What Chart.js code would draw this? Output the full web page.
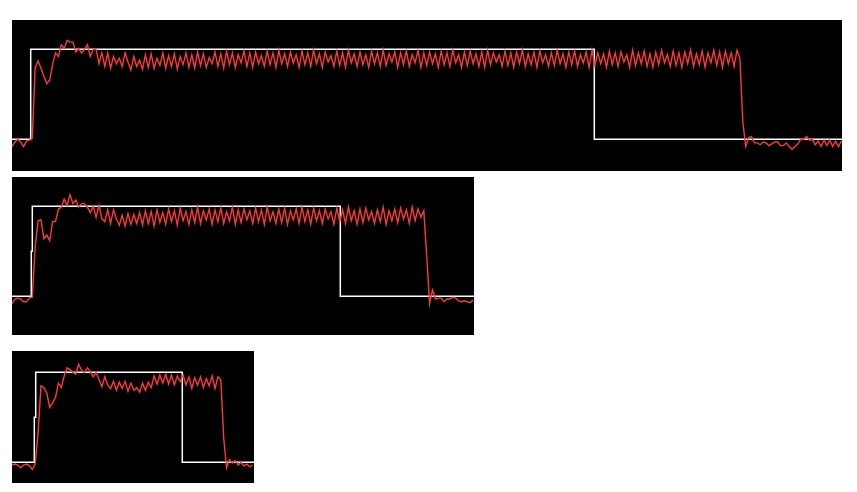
<!DOCTYPE html>
<html>
<head>
<meta charset="utf-8">
<script src="https://cdn.jsdelivr.net/npm/chart.js@4.4.1/dist/chart.umd.min.js"></script>
<style>
  html, body { margin: 0; padding: 0; background: #ffffff; width: 857px; height: 492px; overflow: hidden; }
  canvas { position: absolute; display: block; }
</style>
</head>
<body>
<canvas id="c1" width="830" height="151" style="left:12px;top:20px;width:830px;height:151px"></canvas>
<canvas id="c2" width="462" height="158" style="left:12px;top:177px;width:462px;height:158px"></canvas>
<canvas id="c3" width="242" height="132" style="left:12px;top:351px;width:242px;height:132px"></canvas>
<script>
// time between samples of the measured (red) signal
const SAMPLE_STEP = 2.9;

// ---- Panel 1 ----
const p1RefTimes  = [0, 18.7, 18.7, 582.3, 582.3, 830];
const p1RefLevels = [0, 0, 1, 1, 0, 0];
const p1Signal = [
  -0.08, -0.03, 0.00, -0.03, -0.08, -0.02, -0.01, 0.01, 0.80, 0.87,
  0.79, 0.70, 0.62, 0.66, 0.83, 0.96, 0.92, 1.05, 1.01, 1.10,
  1.08, 1.08, 0.97, 1.01, 0.96, 1.00, 1.05, 0.92, 1.00, 1.00,
  0.84, 0.96, 0.81, 0.96, 0.79, 0.92, 0.84, 0.90, 0.81, 0.96,
  0.86, 0.77, 0.92, 0.81, 0.88,
  0.78, 0.94, 0.80, 0.95, 0.79, 0.90, 0.82, 0.96, 0.79, 0.93,
  0.81, 0.95, 0.78, 0.92, 0.83, 0.96, 0.80, 0.94, 0.79, 0.97,
  0.82, 0.95, 0.80, 0.91, 0.84, 0.97, 0.81, 0.95, 0.79, 0.98,
  0.83, 0.96, 0.80, 0.94, 0.85, 0.98, 0.81, 0.96, 0.80, 0.97,
  0.84, 0.93, 0.81, 0.98, 0.83, 0.96, 0.80, 0.99, 0.84, 0.95,
  0.81, 0.97, 0.85, 0.94, 0.80, 0.98, 0.83, 0.96, 0.81, 0.99,
  0.84, 0.95, 0.80, 0.97, 0.86, 0.93, 0.81, 0.98, 0.82, 0.96,
  0.80, 0.99, 0.85, 0.95, 0.81, 0.97, 0.83, 0.94, 0.80, 0.98,
  0.84, 0.96, 0.81, 0.99, 0.82, 0.95, 0.86, 0.97, 0.80, 0.96,
  0.83, 0.98, 0.81, 0.94, 0.85, 0.99, 0.80, 0.96, 0.82, 0.97,
  0.84, 0.95, 0.80, 0.98, 0.83, 0.96, 0.81, 0.99, 0.85, 0.94,
  0.80, 0.97, 0.82, 0.98, 0.84, 0.95, 0.81, 0.97, 0.80, 0.99,
  0.83, 0.96, 0.86, 0.94, 0.81, 0.98, 0.82, 0.96, 0.80, 0.97,
  0.84, 0.99, 0.81, 0.95, 0.83, 0.97, 0.80, 0.98, 0.85, 0.94,
  0.81, 0.96, 0.82, 0.99, 0.84, 0.95, 0.80, 0.97, 0.83, 0.98,
  0.81, 0.94, 0.85, 0.97, 0.80, 0.99, 0.82, 0.96, 0.84, 0.95,
  0.80, 0.98, 0.83, 0.96, 0.81, 0.97, 0.86, 0.94, 0.80, 0.99,
  0.82, 0.96, 0.84, 0.98, 0.81, 0.95, 0.80, 0.97, 0.83, 0.99,
  0.85, 0.94, 0.81, 0.98, 0.82, 0.96, 0.80, 0.97, 0.84, 0.99,
  0.81, 0.95, 0.83, 0.98, 0.80, 0.96, 0.85, 0.99, 0.82, 0.97,
  0.80, 0.98, 0.84, 0.96, 0.81, 0.99, 0.90,
  0.20, -0.08, 0.02, 0.03, -0.04, -0.04, -0.06, -0.03, -0.04, -0.07,
  -0.05, -0.03, -0.03, -0.07, -0.07, -0.04, -0.08, -0.11, -0.08, -0.05,
  0.00, 0.00, 0.03, -0.01, 0.00, -0.06, -0.02, -0.08, -0.01, -0.07,
  -0.01, -0.08, -0.02, -0.08, -0.02
];

// ---- Panel 2 ----
const p2RefTimes  = [0, 19.3, 19.3, 20.3, 20.3, 328.3, 328.3, 462];
const p2RefLevels = [0, 0, 0.5, 0.5, 1, 1, 0, 0];
const p2Signal = [
  -0.08, -0.03, -0.02, -0.03, -0.06, -0.06, -0.02, -0.01, 0.55, 0.84,
  0.85, 0.64, 0.68, 0.62, 0.83, 0.83, 0.97, 0.99, 1.08, 1.01,
  1.13, 1.03, 1.07, 0.99, 1.03, 1.03, 0.99, 0.93, 1.00, 0.88,
  1.01, 0.86, 0.83, 0.96, 0.81, 0.96, 0.86, 0.79, 0.90, 0.78,
  0.92, 0.80, 0.91, 0.81, 0.93,
  0.79, 0.95, 0.81, 0.94, 0.78, 0.96, 0.82, 0.93, 0.80, 0.97,
  0.83, 0.95, 0.79, 0.98, 0.84, 0.94, 0.80, 0.96, 0.82, 0.99,
  0.81, 0.95, 0.85, 0.97, 0.80, 0.96, 0.83, 0.98, 0.81, 0.94,
  0.84, 0.99, 0.80, 0.96, 0.82, 0.97, 0.85, 0.95, 0.81, 0.98,
  0.83, 0.96, 0.80, 0.99, 0.84, 0.94, 0.81, 0.97, 0.82, 0.98,
  0.80, 0.95, 0.85, 0.97, 0.81, 0.99, 0.83, 0.96, 0.80, 0.98,
  0.84, 0.95, 0.81, 0.97, 0.86, 0.94, 0.80, 0.98, 0.83, 0.96,
  0.81, 0.99, 0.84, 0.95, 0.80, 0.97, 0.82, 0.98, 0.85, 0.94,
  0.81, 0.96, 0.83, 0.99, 0.80, 0.95, 0.84, 0.97, 0.82, 0.98,
  0.86, 0.96, 0.81, 0.99, 0.84, 0.97, 0.88, 0.95,
  0.45, -0.08, 0.07, -0.03, -0.02, -0.02, -0.06, -0.03, -0.03, -0.01,
  -0.02, -0.05, -0.06, -0.05, -0.06, -0.07, -0.04
];

// ---- Panel 3 ----
const p3RefTimes  = [0, 22.3, 22.3, 23.7, 23.7, 170.3, 170.3, 242];
const p3RefLevels = [0, 0, 0.5, 0.5, 1, 1, 0, 0];
const p3Signal = [
  -0.03, -0.02, -0.03, -0.06, -0.03, -0.02, -0.04, -0.08, -0.02, 0.33,
  0.85, 0.83, 0.77, 0.61, 0.66, 0.72, 0.88, 0.83, 0.96, 1.05,
  1.03, 1.00, 0.98, 1.09, 1.02, 1.00, 1.05, 1.01, 0.95, 1.00,
  0.92, 0.84, 0.95, 0.86, 0.82, 0.90, 0.80, 0.89, 0.82, 0.90,
  0.79, 0.88, 0.80,
  0.83, 0.78, 0.88, 0.80, 0.89, 0.83, 0.96, 0.87, 0.97, 0.88,
  0.98, 0.87, 0.97, 0.86, 0.96, 0.90, 0.97, 0.86, 0.95, 0.82,
  0.94, 0.86, 0.95, 0.83, 0.93, 0.85, 0.96, 0.82, 0.95, 0.92,
  0.27, -0.06, 0.03, -0.01, 0.02, -0.03, 0.00, -0.04, -0.02, -0.05, -0.03
];

// axis extents (time span and value range of each panel)
const p1Range = { xMax: 830, yMin: -0.352, yMax: 1.326 };
const p2Range = { xMax: 462, yMin: -0.430, yMax: 1.326 };
const p3Range = { xMax: 242, yMin: -0.230, yMax: 1.237 };

const blackArea = {
  id: 'blackArea',
  beforeDraw(chart) {
    const { ctx, chartArea } = chart;
    ctx.save();
    ctx.fillStyle = '#000000';
    ctx.fillRect(chartArea.left, chartArea.top, chartArea.right - chartArea.left, chartArea.bottom - chartArea.top);
    ctx.restore();
  }
};

function toPoints(times, levels) {
  return times.map((t, i) => ({ x: t, y: levels[i] }));
}
function sampled(values) {
  return values.map((v, i) => ({ x: i * SAMPLE_STEP, y: v }));
}

function makeChart(id, refTimes, refLevels, signal, range) {
  return new Chart(document.getElementById(id), {
    type: 'line',
    data: {
      datasets: [
        {
          label: 'output',
          data: sampled(signal),
          borderColor: '#ff3838',
          borderWidth: 1.4,
          pointRadius: 0,
          tension: 0,
          fill: false
        },
        {
          label: 'reference',
          data: toPoints(refTimes, refLevels),
          borderColor: '#ffffff',
          borderWidth: 1.5,
          pointRadius: 0,
          tension: 0,
          fill: false
        }
      ]
    },
    options: {
      responsive: false,
      animation: false,
      devicePixelRatio: 1,
      layout: { padding: 0 },
      plugins: { legend: { display: false }, tooltip: { enabled: false }, title: { display: false } },
      scales: {
        x: { type: 'linear', display: false, min: 0, max: range.xMax },
        y: { type: 'linear', display: false, min: range.yMin, max: range.yMax }
      }
    },
    plugins: [blackArea]
  });
}

makeChart('c1', p1RefTimes, p1RefLevels, p1Signal, p1Range);
makeChart('c2', p2RefTimes, p2RefLevels, p2Signal, p2Range);
makeChart('c3', p3RefTimes, p3RefLevels, p3Signal, p3Range);
</script>
</body>
</html>
